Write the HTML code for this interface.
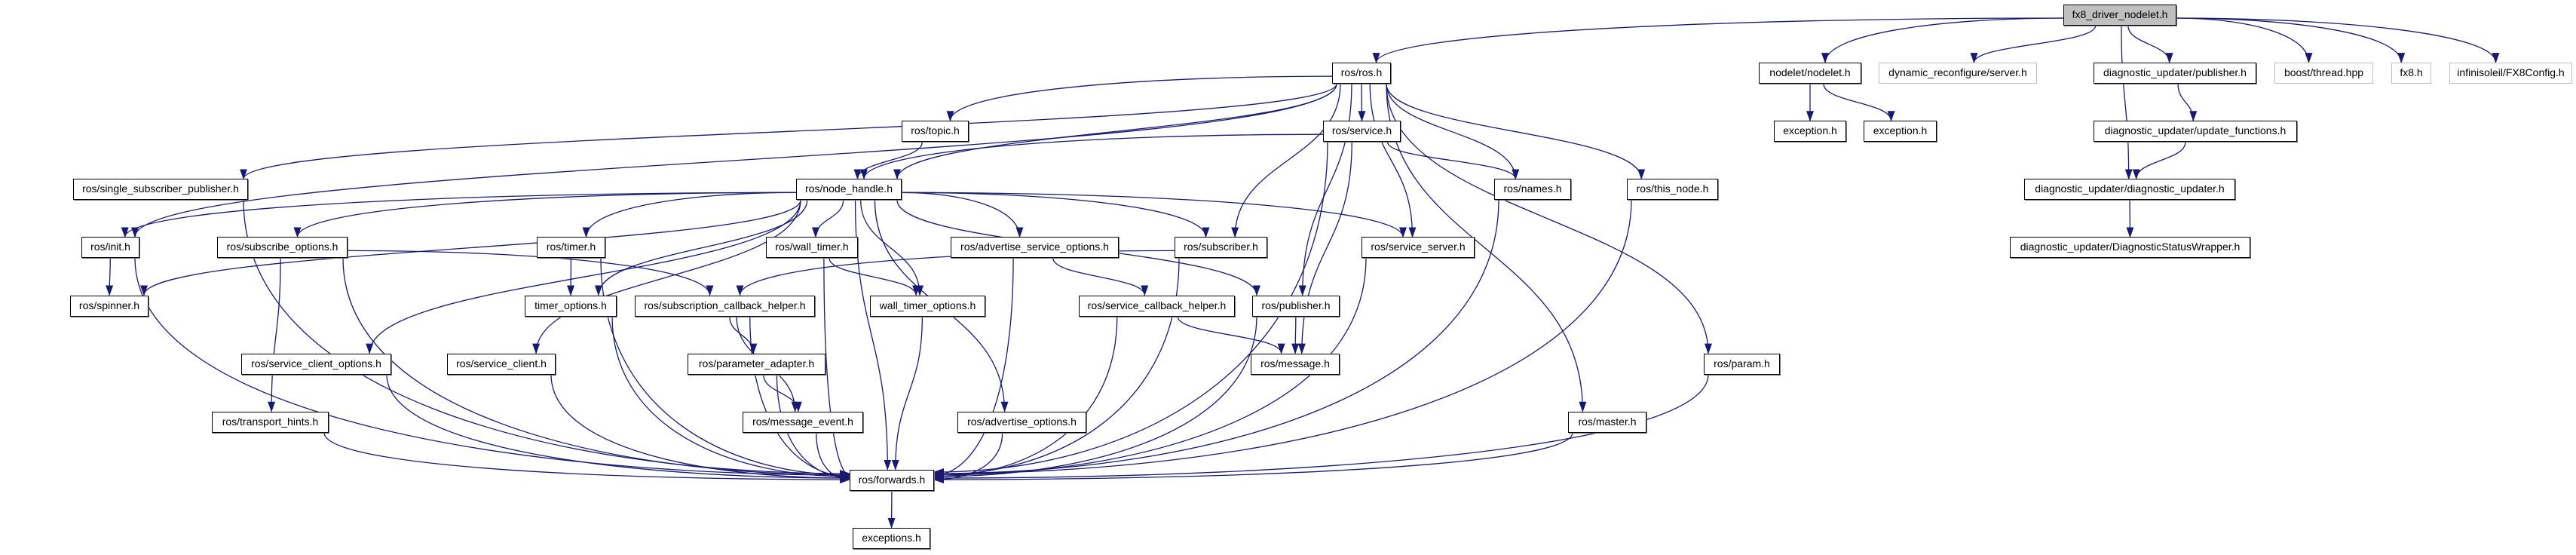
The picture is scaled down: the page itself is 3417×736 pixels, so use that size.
<!DOCTYPE html>
<html><head><meta charset="utf-8"><style>
html,body{margin:0;padding:0;background:#fff;}
#c{position:relative;width:3417px;height:736px;overflow:hidden;}
.n{position:absolute;height:28px;box-sizing:border-box;border:1.5px solid #000;background:#fff;font:14px "Liberation Sans",sans-serif;line-height:25px;text-align:center;white-space:nowrap;color:#000;box-shadow:1px 1px 0 #777;}
.g{border-color:#bfbfbf;box-shadow:none;}
.f{background:#bfbfbf;}
svg{position:absolute;left:0;top:0;}
</style></head><body><div id="c">
<svg id="s" width="3417" height="736"><defs><marker id="a" markerUnits="userSpaceOnUse" markerWidth="14" markerHeight="10" refX="13" refY="5" orient="auto"><path d="M0,0 L14,5 L0,10 z" fill="#191970"/></marker></defs></svg>
<div id="nodes"></div>
</div>
<div style="display:none" id="labels">
<span>fx8_driver_nodelet.h</span><span>ros/ros.h</span><span>nodelet/nodelet.h</span><span>dynamic_reconfigure/server.h</span><span>diagnostic_updater/publisher.h</span><span>boost/thread.hpp</span><span>fx8.h</span><span>infinisoleil/FX8Config.h</span><span>ros/topic.h</span><span>ros/service.h</span><span>exception.h</span><span>diagnostic_updater/update_functions.h</span><span>ros/single_subscriber_publisher.h</span><span>ros/node_handle.h</span><span>ros/names.h</span><span>ros/this_node.h</span><span>diagnostic_updater/diagnostic_updater.h</span><span>ros/init.h</span><span>ros/subscribe_options.h</span><span>ros/timer.h</span><span>ros/wall_timer.h</span><span>ros/advertise_service_options.h</span><span>ros/subscriber.h</span><span>ros/service_server.h</span><span>diagnostic_updater/DiagnosticStatusWrapper.h</span><span>ros/spinner.h</span><span>timer_options.h</span><span>ros/subscription_callback_helper.h</span><span>wall_timer_options.h</span><span>ros/service_callback_helper.h</span><span>ros/publisher.h</span><span>ros/service_client_options.h</span><span>ros/service_client.h</span><span>ros/parameter_adapter.h</span><span>ros/message.h</span><span>ros/param.h</span><span>ros/transport_hints.h</span><span>ros/message_event.h</span><span>ros/advertise_options.h</span><span>ros/master.h</span><span>ros/forwards.h</span><span>exceptions.h</span>
</div>
<script>
const N={
fx8:["fx8_driver_nodelet.h",2737,2887,0,"f"],
ros:["ros/ros.h",1767,1845,1],
nodelet:["nodelet/nodelet.h",2333,2469,1],
dyn:["dynamic_reconfigure/server.h",2492,2702,1,"g"],
dpub:["diagnostic_updater/publisher.h",2777,2993,1],
boost:["boost/thread.hpp",3017,3148,1,"g"],
fx8h:["fx8.h",3172,3225,1,"g"],
cfg:["infinisoleil/FX8Config.h",3249,3412,1,"g"],
topic:["ros/topic.h",1196,1285,2],
service:["ros/service.h",1755,1858,2],
exc1:["exception.h",2353,2449,2],
exc2:["exception.h",2472,2569,2],
upd:["diagnostic_updater/update_functions.h",2777,3047,2],
ssp:["ros/single_subscriber_publisher.h",97,329,3],
nh:["ros/node_handle.h",1056,1196,3],
names:["ros/names.h",1982,2084,3],
thisn:["ros/this_node.h",2158,2279,3],
dupd:["diagnostic_updater/diagnostic_updater.h",2685,2965,3],
init:["ros/init.h",108,185,4],
subo:["ros/subscribe_options.h",288,461,4],
timer:["ros/timer.h",712,803,4],
wtimer:["ros/wall_timer.h",1016,1138,4],
aso:["ros/advertise_service_options.h",1261,1484,4],
sub:["ros/subscriber.h",1558,1681,4],
ssrv:["ros/service_server.h",1806,1956,4],
dsw:["diagnostic_updater/DiagnosticStatusWrapper.h",2666,2985,4],
spin:["ros/spinner.h",93,197,5],
topt:["timer_options.h",696,818,5],
sch:["ros/subscription_callback_helper.h",842,1081,5],
wto:["wall_timer_options.h",1154,1307,5],
srvch:["ros/service_callback_helper.h",1431,1638,5],
pub:["ros/publisher.h",1661,1777,5],
sco:["ros/service_client_options.h",320,519,6],
sc:["ros/service_client.h",593,737,6],
pa:["ros/parameter_adapter.h",912,1095,6],
msg:["ros/message.h",1659,1777,6],
param:["ros/param.h",2260,2361,6],
th:["ros/transport_hints.h",281,436,7],
me:["ros/message_event.h",985,1145,7],
ao:["ros/advertise_options.h",1270,1441,7],
master:["ros/master.h",2080,2184,7],
fw:["ros/forwards.h",1127,1239,8],
exs:["exceptions.h",1131,1234,9]
};
const Y=r=>20+77.1*r;
let h="";
for(const k in N){const n=N[k];h+=`<div class="n ${n[4]||''}" style="left:${n[1]}px;top:${Y(n[3])-14}px;width:${n[2]-n[1]}px">${n[0]}</div>`;}
document.getElementById("nodes").innerHTML=h;
const E=`fx8 ros,fx8 nodelet,fx8 dyn,fx8 dupd,fx8 dpub,fx8 boost,fx8 fx8h,fx8 cfg,nodelet exc1,nodelet exc2,dpub upd,upd dupd,dupd dsw,
ros ssp,ros init,ros topic,ros nh,ros service,ros sub,ros pub,ros ssrv,ros names,ros thisn,ros param,ros master,
topic nh,service nh,service names,service msg,service fw,
nh init,nh spin,nh subo,nh sco,nh sc,nh fw,nh timer,nh topt,nh wtimer,nh wto,nh aso,nh ao,nh sub,nh pub,nh ssrv,
subo sch,subo th,subo fw,init spin,init fw,ssp fw,timer topt,timer fw,wtimer wto,wtimer fw,
sub sch,sub fw,aso srvch,aso fw,srvch msg,srvch fw,pub msg,pub fw,ssrv fw,
sch pa,sch me,sch fw,pa me,pa fw,me fw,sco fw,sc fw,th fw,topt fw,wto fw,ao fw,
master fw,param fw,thisn fw,names fw,fw exs`.split(",").map(s=>s.trim().split(" "));
let p="";
const cl=(v,a,b)=>Math.max(a,Math.min(b,v));
for(const [a,b] of E){
 const s=N[a],t=N[b];
 const scx=(s[1]+s[2])/2,tcx=(t[1]+t[2])/2;
 let sx=scx+cl((tcx-scx)*0.15,-(s[2]-s[1])/2+6,(s[2]-s[1])/2-6), sy=Y(s[3])+14;
 let tx,ty,d;
 const gap=Y(t[3])-14-sy;
 if(b==="fw" && (scx<1080||scx>1290)){
  const left=scx<1080; tx=left?1127:1239; ty=632+cl((s[3]-5)*2,-6,6);
  d=`M${sx},${sy} C${sx},${sy+(ty-sy)*0.7} ${tx+(sx-tx)*0.5},${ty} ${tx},${ty}`;
 } else if(Math.abs(tcx-scx)>5*gap && gap<80){
  const left=tcx<scx; sx=left?s[1]:s[2]; sy=Y(s[3])+cl((tcx-scx)*0.01,-8,8)*0+4;
  tx=tcx+(left?1:-1)*Math.min(20,(t[2]-t[1])/4); ty=Y(t[3])-14;
  d=`M${sx},${sy} C${sx+(tx-sx)*0.5},${sy} ${tx},${ty-gap*0.8} ${tx},${ty}`;
 } else {
  tx=tcx+cl((scx-tcx)*0.1,-(t[2]-t[1])/2+6,(t[2]-t[1])/2-6); ty=Y(t[3])-14;
  const m=(ty-sy)/2;
  d=`M${sx},${sy} C${sx},${sy+m} ${tx},${ty-m} ${tx},${ty}`;
 }
 p+=`<path d="${d}" fill="none" stroke="#191970" stroke-width="1.3" marker-end="url(#a)"/>`;
}
document.getElementById("s").insertAdjacentHTML("beforeend",p);
</script>
</body></html>
